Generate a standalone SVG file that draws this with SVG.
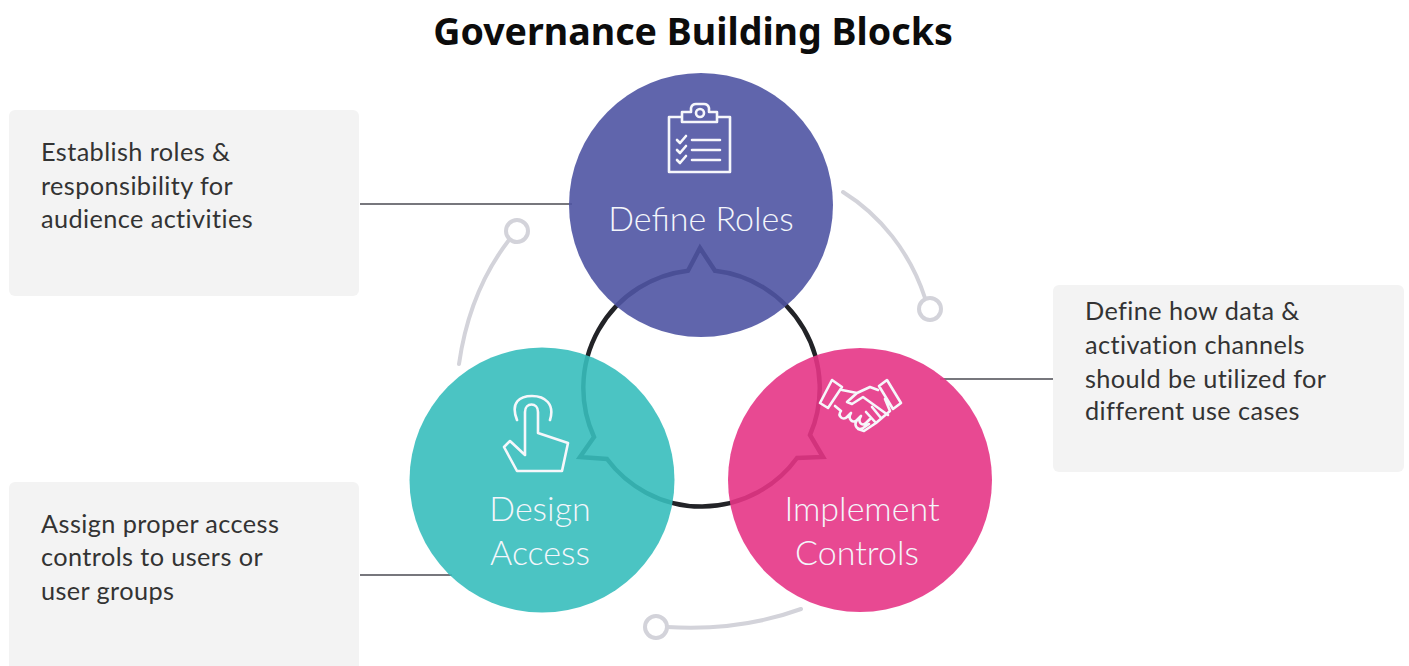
<svg xmlns="http://www.w3.org/2000/svg" width="1409" height="666" viewBox="0 0 1409 666">
<style>
.box{fill:#f3f3f3}
.lead{stroke:#77777d;stroke-width:2;fill:none}
.deco{stroke:#d3d3da;stroke-width:4;fill:none;stroke-linecap:round}
.body{font-family:"Lato","Noto Sans",sans-serif;font-size:25.3px;fill:#333;letter-spacing:.4px}
.label{font-family:"Lato","Noto Sans",sans-serif;font-weight:300;font-size:34px;fill:#f4f6fb;text-anchor:middle}
.icon{fill:none;stroke:#f6f7fb;stroke-width:2.6;stroke-linejoin:round;stroke-linecap:round}
.title{font-family:"Noto Sans","Open Sans",sans-serif;font-weight:700;font-size:37.6px;fill:#0c0c0c;text-anchor:middle}
</style>
<rect width="1409" height="666" fill="#fff"/>
<text class="title" x="693" y="45">Governance Building Blocks</text>
<g id="connectors">
<path class="lead" d="M360 204H572"/>
<path class="lead" d="M940 379H1054"/>
<path class="lead" d="M360 575H452"/>
<path class="deco" d="M843 192C880 215 910 252 925 298"/>
<circle class="deco" cx="930" cy="309" r="11"/>
<path class="deco" d="M459 364C466 315 482 275 509 240"/>
<circle class="deco" cx="517" cy="231" r="11"/>
<path class="deco" d="M801 609C760 624 715 630 667 627"/>
<circle class="deco" cx="656" cy="627" r="11"/>
<path id="cycle-ring" d="M688 270.7L700 248L715 270.8A118 118 0 0 1 810 435L823 457L797 458A118 118 0 0 1 607 459L580 457L594 437A118 118 0 0 1 688 270.7Z" fill="none" stroke="#222327" stroke-width="4.5" stroke-linejoin="miter"/>
</g>
<g id="note-roles">
<rect class="box" x="9" y="110" width="350" height="186" rx="6"/>
<text class="body" x="41" y="161">Establish roles &amp;</text>
<text class="body" x="41" y="195">responsibility for</text>
<text class="body" x="41" y="228">audience activities</text>
</g>
<g id="note-controls">
<rect class="box" x="1053" y="285" width="351" height="187" rx="6"/>
<text class="body" x="1085" y="320">Define how data &amp;</text>
<text class="body" x="1085" y="354">activation channels</text>
<text class="body" x="1085" y="388">should be utilized for</text>
<text class="body" x="1085" y="420">different use cases</text>
</g>
<g id="note-access">
<rect class="box" x="9" y="482" width="350" height="190" rx="6"/>
<text class="body" x="41" y="533">Assign proper access</text>
<text class="body" x="41" y="566">controls to users or</text>
<text class="body" x="41" y="600">user groups</text>
</g>
<g id="node-define-roles">
<circle cx="701" cy="205" r="132" fill="#4f54a3" fill-opacity=".9"/>
<path class="icon" d="M682 117H669V172H730V117H717M682 122V112H691V108Q692 104 696 104H704Q708 104 709 108V112H717V122Z"/>
<circle class="icon" cx="700" cy="113" r="4"/>
<path class="icon" d="M692 140H720M692 150H720M692 160H720M677 140L680 143L686 136M677 150L680 153L686 146M677 160L680 163L686 156"/>
<text class="label" x="701" y="231">Define Roles</text>
</g>
<g id="node-design-access">
<circle cx="542" cy="480" r="132.5" fill="#37bebc" fill-opacity=".9"/>
<path class="icon" d="M517 420C510 402 520 396 532 396C545 396 555 404 550 420M525 455V412C525 402 538 402 538 412V433L568 443L562 471H517L504 447L510 441L525 455"/>
<text class="label" x="540" y="521">Design</text>
<text class="label" x="540" y="565">Access</text>
</g>
<g id="node-implement-controls">
<circle cx="860" cy="480" r="132" fill="#e53586" fill-opacity=".9"/>
<path class="icon" d="M832 380L842 387L828 408L820 403ZM887 380L901 403L893 409L879 386ZM842 390L857 393L870 387L878 390M857 393L847 402L852 404L863 397L888 415M885 399L890 411L876 423L864 431L858 429M835 406L841 411M841 411C837 416 843 421 847 417L851 413C847 419 853 424 857 420L861 416C857 422 862 427 866 423L871 418M857 420C853 426 858 431 863 428L869 424M876 423L866 412M881 418L872 407"/>
<text class="label" x="862" y="521">Implement</text>
<text class="label" x="857" y="565">Controls</text>
</g>
</svg>
